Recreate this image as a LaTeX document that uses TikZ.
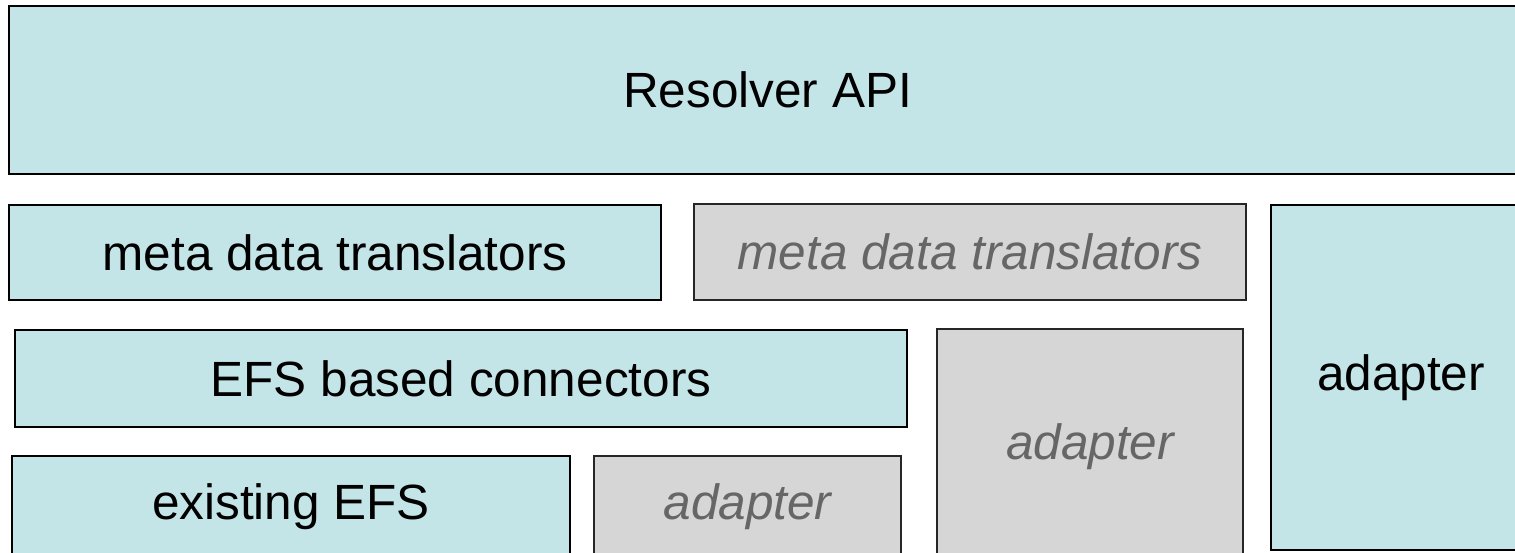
\documentclass[tikz,border=0pt]{standalone}
\usepackage{fontspec}
\setmainfont{Liberation Sans}
\definecolor{boxcyan}{HTML}{C4E5E8}
\definecolor{boxgrey}{HTML}{D6D6D6}
\definecolor{greytext}{HTML}{666666}
\begin{document}
\begin{tikzpicture}[x=1pt,y=-1pt,
  layer/.style={draw=black, line width=1.6pt, fill=boxcyan, inner sep=0pt, outer sep=0pt,
    font=\fontsize{49.5}{59}\selectfont, text=black},
  ghost/.style={draw=black!85, line width=1.6pt, fill=boxgrey, inner sep=0pt, outer sep=0pt,
    font=\fontsize{49.5}{59}\selectfont\itshape, text=greytext}]
\useasboundingbox (0,0) rectangle (1515,552);
\clip (0,0) rectangle (1515,552);
\node[layer, minimum width=1517pt, minimum height=168pt] (api) at (767.5,90) {Resolver API};
\node[layer, minimum width=652pt, minimum height=95pt] (mdt) at (335,252.5) {meta data translators};
\node[ghost, minimum width=552pt, minimum height=96pt] (gmdt) at (970,252) {meta data translators};
\node[layer, minimum width=892pt, minimum height=97pt] (efs) at (461,378.5) {EFS based connectors};
\node[ghost, minimum width=306pt, minimum height=236pt] (gad2) at (1090,447) {adapter};
\node[layer, minimum width=260pt, minimum height=345pt] (ad) at (1401,377.5) {adapter};
\node[layer, minimum width=558pt, minimum height=102pt] (exist) at (291,507) {existing EFS};
\node[ghost, minimum width=307pt, minimum height=102pt] (gad1) at (747.5,507) {adapter};
\end{tikzpicture}
\end{document}
